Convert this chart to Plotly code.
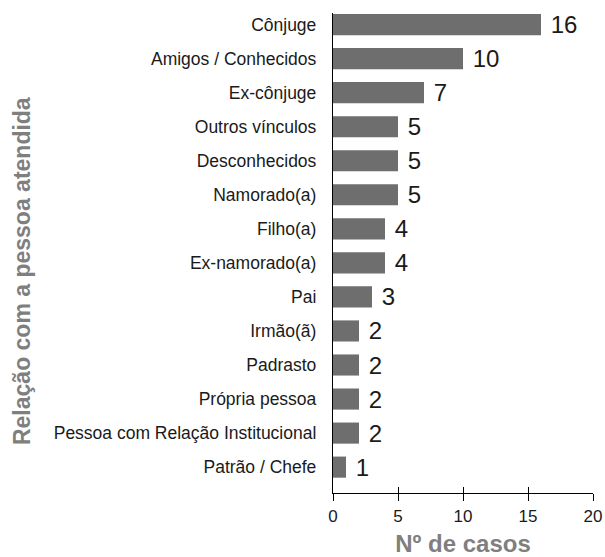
import plotly.graph_objects as go

categories = ["Cônjuge", "Amigos / Conhecidos", "Ex-cônjuge", "Outros vínculos",
              "Desconhecidos", "Namorado(a)", "Filho(a)", "Ex-namorado(a)", "Pai",
              "Irmão(ã)", "Padrasto", "Própria pessoa",
              "Pessoa com Relação Institucional", "Patrão / Chefe"]
values = [16, 10, 7, 5, 5, 5, 4, 4, 3, 2, 2, 2, 2, 1]
x_ticks = [0, 5, 10, 15, 20]
x_title = "Nº de casos"
y_title = "Relação com a pessoa atendida"

FONT = "Liberation Sans"
GRAY = "#7f7f7f"

fig = go.Figure()
fig.add_trace(go.Bar(
    x=values, y=categories, orientation="h",
    marker=dict(color="#6e6e6e", line=dict(width=0)),
    width=0.62,
    text=values, texttemplate=" %{x}", textposition="outside",
    constraintext="none",
    textfont=dict(family=FONT, size=24, color="#1a1a1a"),
    cliponaxis=False, showlegend=False,
))
# overlay axis for inward half of the crossing ticks
fig.add_trace(go.Scatter(x=[None], y=[None], xaxis="x2", showlegend=False))

fig.update_layout(
    width=605, height=557,
    margin=dict(l=333, r=12, t=13, b=64, autoexpand=False),
    paper_bgcolor="white", plot_bgcolor="white",
    font=dict(family=FONT, color="#1a1a1a"),
    xaxis=dict(range=[0, 20], tickvals=x_ticks, ticks="outside", ticklen=7,
               tickwidth=1.3, tickcolor="black", showline=True, linecolor="black",
               linewidth=1.3, showgrid=False, zeroline=False, automargin=False,
               tickfont=dict(family=FONT, size=17, color="#1a1a1a"),
               title=dict(text=x_title, standoff=15,
                          font=dict(family=FONT, size=24, color=GRAY, weight="bold"))),
    xaxis2=dict(range=[0, 20], tickvals=x_ticks, ticks="inside", ticklen=6,
                tickwidth=1.3, tickcolor="black", overlaying="x", side="bottom",
                anchor="y", showticklabels=False, showgrid=False, zeroline=False,
                showline=False, automargin=False),
    yaxis=dict(categoryorder="array", categoryarray=categories[::-1],
               range=[-0.76, 13.34], showline=True, linecolor="black", linewidth=1.3,
               ticks="", showgrid=False, zeroline=False, ticklabelstandoff=12,
               automargin=False,
               tickfont=dict(family=FONT, size=17.5, color="#1a1a1a")),
    annotations=[dict(text=y_title, textangle=-90, xref="paper", yref="paper",
                      x=-1.196, y=0.4625, xanchor="center", yanchor="middle",
                      showarrow=False,
                      font=dict(family=FONT, size=23, color=GRAY, weight="bold"))],
    bargap=0.38,
)

fig.write_html("out.html")
